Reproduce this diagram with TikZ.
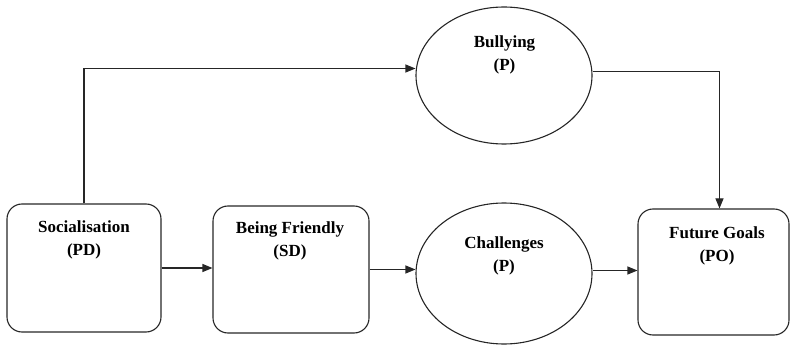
\documentclass[tikz,border=0pt]{standalone}
\usepackage{fontspec}
\setmainfont{Liberation Serif}
\usetikzlibrary{shapes.geometric,arrows.meta}
\begin{document}
\begin{tikzpicture}[x=1pt,y=-1pt,
  box/.style={draw=black!85,line width=1.1pt,rounded corners=15pt,inner sep=0pt},
  oval/.style={draw=black!85,line width=1.1pt,ellipse,inner sep=0pt},
  lbl/.style={font=\fontsize{17}{23}\selectfont\bfseries,align=center,inner sep=0pt},
  arr/.style={draw=black!85,line width=1.1pt,-{Triangle[length=10pt,width=8pt]}}]
\useasboundingbox (0,0) rectangle (791,347);
\node[box,minimum width=154pt,minimum height=128pt] (soc) at (84,268) {};
\node[box,minimum width=156pt,minimum height=127pt] (bf) at (291,269.5) {};
\node[box,minimum width=151pt,minimum height=126pt] (fg) at (713.5,272) {};
\node[oval,minimum width=176pt,minimum height=137pt] (bully) at (504,75.5) {};
\node[oval,minimum width=176pt,minimum height=141pt] (ch) at (504,273.5) {};
\node[lbl] (soct) at (84,240) {Socialisation\\(PD)};
\node[lbl] (bft) at (290,241) {Being Friendly\\(SD)};
\node[lbl] (bullyt) at (504.5,55) {Bullying\\(P)};
\node[lbl] (cht) at (504,256) {Challenges\\(P)};
\node[lbl] (fgt) at (717,246) {Future Goals\\(PO)};
\draw[arr] (soc.north) |- ([yshift=7pt]bully.west);
\draw[arr] ([yshift=4pt]bully.east) -| ([xshift=6pt]fg.north);
\draw[arr] (soc.east) -- (soc.east -| bf.west);
\draw[arr] (bf.east) -- (bf.east -| ch.west);
\draw[arr] ([yshift=3pt]ch.east) -- ([yshift=3pt]ch.east -| fg.west);
\end{tikzpicture}
\end{document}
